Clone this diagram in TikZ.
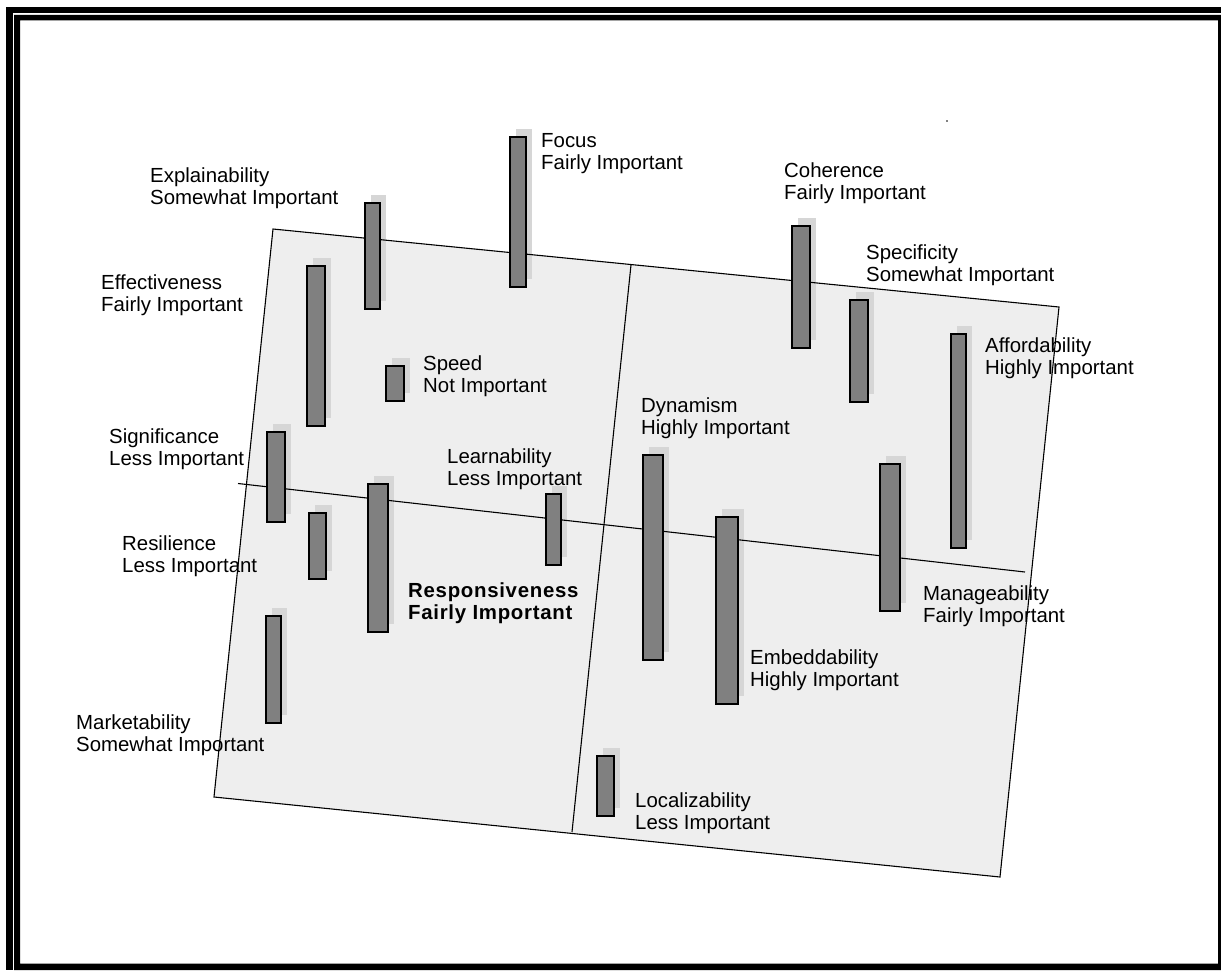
\documentclass[tikz,border=0pt]{standalone}
\usepackage{fontspec}
\setmainfont{Liberation Sans}
\newfontfamily\semibold[LetterSpace=3.5]{Liberation Sans Bold}
\definecolor{barGray}{HTML}{808080}
\definecolor{shadowGray}{HTML}{D6D6D6}
\definecolor{planeGray}{HTML}{EEEEEE}
\newcommand\twolines[2]{\begin{tabular}[t]{@{}l@{}}#1\\#2\end{tabular}}
\begin{document}
\begin{tikzpicture}[x=1pt,y=-1pt,
  barstyle/.style={fill=barGray, draw=black, line width=1.3pt},
  shadowfill/.style={fill=shadowGray},
  plane/.style={fill=planeGray},
  edge/.style={draw=black, line width=1.1pt},
  lbl/.style={anchor=base west, inner sep=0pt, font=\fontsize{20.4}{22.3}\selectfont},
  lblbold/.style={anchor=base west, inner sep=0pt, font=\semibold\fontsize{20.4}{22}\selectfont}]
\useasboundingbox (0,0) rectangle (1221,970);
\fill[white] (0,0) rectangle (1221,970);
% frame (cropped double border)
\fill[black] (6,6.5) rectangle (12.6,970);
\fill[black] (6,6.5) rectangle (1221,12.8);
\fill[black, even odd rule] (14,14.8) rectangle (1221,970) (20,20.3) rectangle (1218,963.5);
% plane
\coordinate (tl) at (273,229);
\coordinate (tr) at (1059,307);
\coordinate (br) at (1000,877);
\coordinate (bl) at (214,797);
\fill[plane] (tl) -- (tr) -- (br) -- (bl) -- cycle;
% shadows first
\foreach \a/\b/\c/\d in {365/203/380/309, 307/266/325/426, 386/366/404/401, 510/137/526/287,
  267/432/285/522, 309/513/326/579, 368/484/388/632, 266/616/281/723, 597/756/614/816,
  546/494/561/565, 643/455/663/660, 716/517/738/704, 792/226/810/348, 850/300/868/402,
  951/334/966/548, 880/464/900/611}
  {\fill[shadowfill] ({\a+6},{\b-8}) rectangle ({\c+6},{\d-8});}
\draw[edge] (tl) -- (tr) -- (br) -- (bl) -- cycle;
\coordinate (vt) at (631,265);
\coordinate (vb) at (572,832);
\coordinate (hl) at (238,483.5);
\coordinate (hr) at (1025,572);
\draw[edge] (vt) -- (vb);
\draw[edge] (hl) -- (hr);
% bars
\foreach \a/\b/\c/\d in {365/203/380/309, 307/266/325/426, 386/366/404/401, 510/137/526/287,
  267/432/285/522, 309/513/326/579, 368/484/388/632, 266/616/281/723, 597/756/614/816,
  546/494/561/565, 643/455/663/660, 716/517/738/704, 792/226/810/348, 850/300/868/402,
  951/334/966/548, 880/464/900/611}
  {\draw[barstyle] (\a,\b) rectangle (\c,\d);}
% speck
\fill[black] (947,121) circle (0.8);
% labels
\node[lbl] (explain) at (150,182) {\twolines{Explainability}{Somewhat Important}};
\node[lbl] (focus) at (541,147) {\twolines{Focus}{Fairly Important}};
\node[lbl] (coher) at (784,177) {\twolines{Coherence}{Fairly Important}};
\node[lbl] (specif) at (866,259) {\twolines{Specificity}{Somewhat Important}};
\node[lbl] (effect) at (101,289) {\twolines{Effectiveness}{Fairly Important}};
\node[lbl] (speed) at (423,370) {\twolines{Speed}{Not Important}};
\node[lbl] (afford) at (985,352) {\twolines{Affordability}{Highly Important}};
\node[lbl] (dynam) at (641,412) {\twolines{Dynamism}{Highly Important}};
\node[lbl] (signif) at (109,443) {\twolines{Significance}{Less Important}};
\node[lbl] (learn) at (447,463) {\twolines{Learnability}{Less Important}};
\node[lbl] (resil) at (122,550) {\twolines{Resilience}{Less Important}};
\node[lblbold] (respon) at (408,597) {\twolines{Responsiveness}{Fairly Important}};
\node[lbl] (manage) at (923,600) {\twolines{Manageability}{Fairly Important}};
\node[lbl] (embed) at (750,664) {\twolines{Embeddability}{Highly Important}};
\node[lbl] (market) at (76,729) {\twolines{Marketability}{Somewhat Important}};
\node[lbl] (local) at (635,807) {\twolines{Localizability}{Less Important}};
\end{tikzpicture}
\end{document}
